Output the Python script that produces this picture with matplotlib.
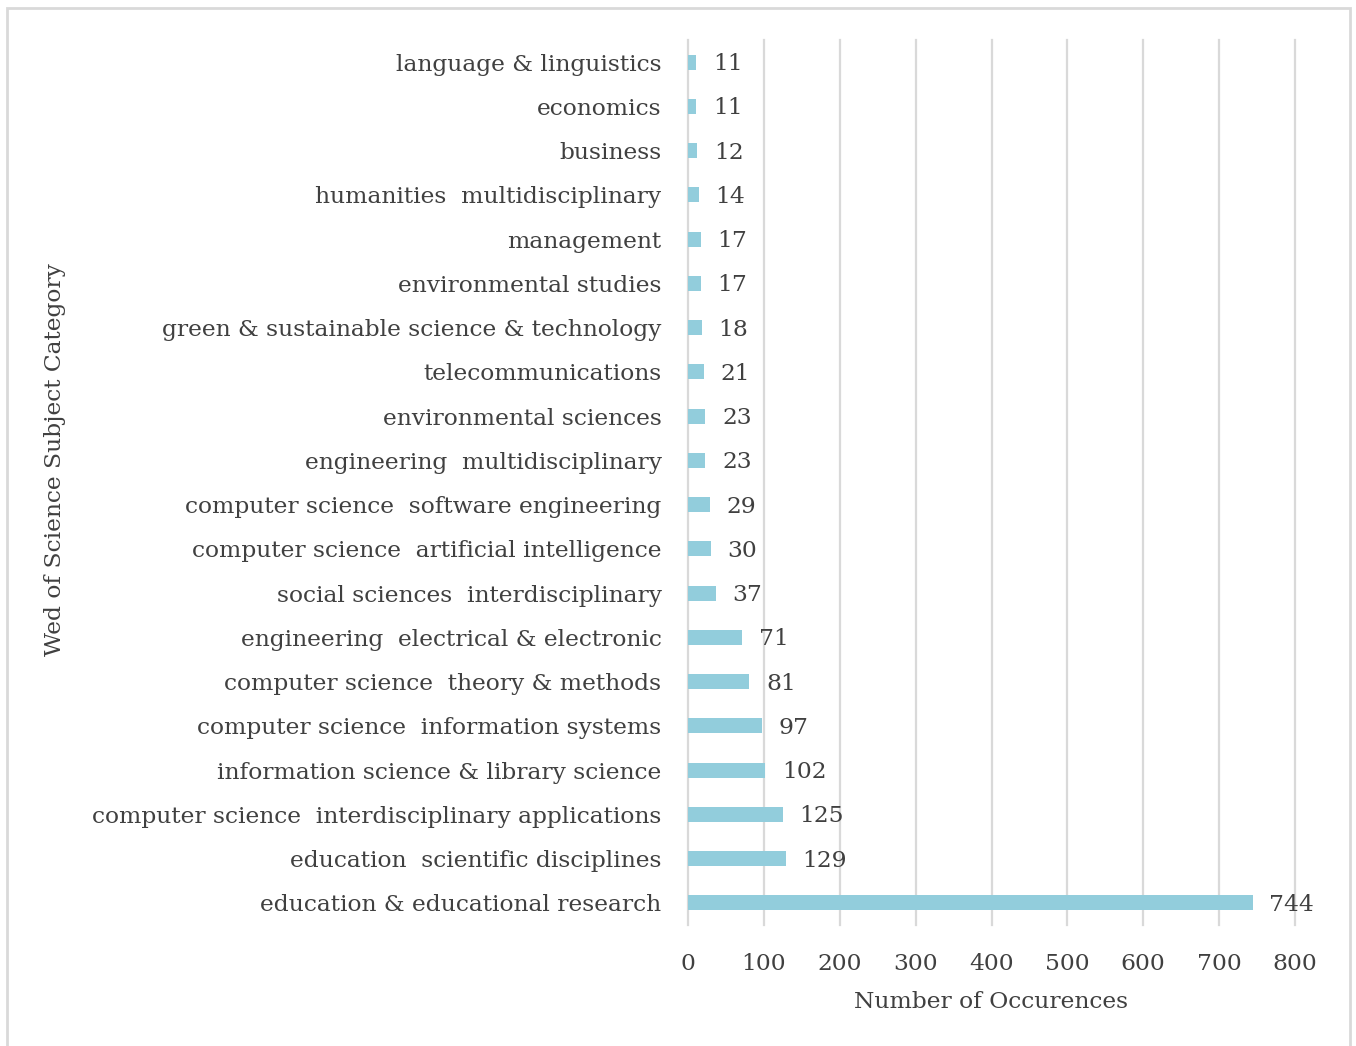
import matplotlib.pyplot as plt
from matplotlib.patches import Rectangle

# categories from top to bottom as shown in the chart
categories = [
    "language & linguistics",
    "economics",
    "business",
    "humanities  multidisciplinary",
    "management",
    "environmental studies",
    "green & sustainable science & technology",
    "telecommunications",
    "environmental sciences",
    "engineering  multidisciplinary",
    "computer science  software engineering",
    "computer science  artificial intelligence",
    "social sciences  interdisciplinary",
    "engineering  electrical & electronic",
    "computer science  theory & methods",
    "computer science  information systems",
    "information science & library science",
    "computer science  interdisciplinary applications",
    "education  scientific disciplines",
    "education & educational research",
]
counts = [11, 11, 12, 14, 17, 17, 18, 21, 23, 23, 29, 30, 37, 71, 81, 97, 102, 125, 129, 744]
xticks = [0, 100, 200, 300, 400, 500, 600, 700, 800]

bar_color = "#92CDDC"
text_color = "#404040"
grid_color = "#D9D9D9"
fs = 16.8

plt.rcParams['font.family'] = ['DejaVu Serif']

fig = plt.figure(figsize=(13.56, 10.46), dpi=100)
ax = fig.add_axes([688 / 1356, 1 - 925 / 1046, (1295 - 688) / 1356, (925 - 40) / 1046])

# outer chart border
fig.patches.append(Rectangle((7 / 1356, -0.01), (1350 - 7) / 1356, 1 - 8 / 1046 + 0.01,
                             transform=fig.transFigure, fill=False,
                             edgecolor="#D9D9D9", linewidth=2))

ypos = list(range(len(categories)))
ax.barh(ypos, counts, height=0.34, color=bar_color, zorder=3)

for y, v in zip(ypos, counts):
    ax.annotate(str(v), (v, y), xytext=(12, -1.5), textcoords="offset points",
                va="center", ha="left", fontsize=fs, color=text_color)

ax.set_ylim(len(categories) - 0.5, -0.5)
ax.set_xlim(0, 800)
ax.set_xticks(xticks)
ax.set_yticks(ypos)
ax.set_yticklabels(categories)
ax.tick_params(axis="both", length=0, labelsize=fs, labelcolor=text_color)
ax.tick_params(axis="y", pad=19)
ax.tick_params(axis="x", pad=20)
ax.grid(axis="x", color=grid_color, linewidth=1.6, zorder=0)
for gl in ax.get_xgridlines():
    gl.set_clip_on(False)
for s in ax.spines.values():
    s.set_visible(False)

ax.set_xlabel("Number of Occurences", fontsize=fs, color=text_color, labelpad=12)
fig.text(55 / 1356, 1 - 460 / 1046, "Wed of Science Subject Category", rotation=90,
         ha="center", va="center", fontsize=fs, color=text_color)

fig.savefig("out.png", dpi=100)
